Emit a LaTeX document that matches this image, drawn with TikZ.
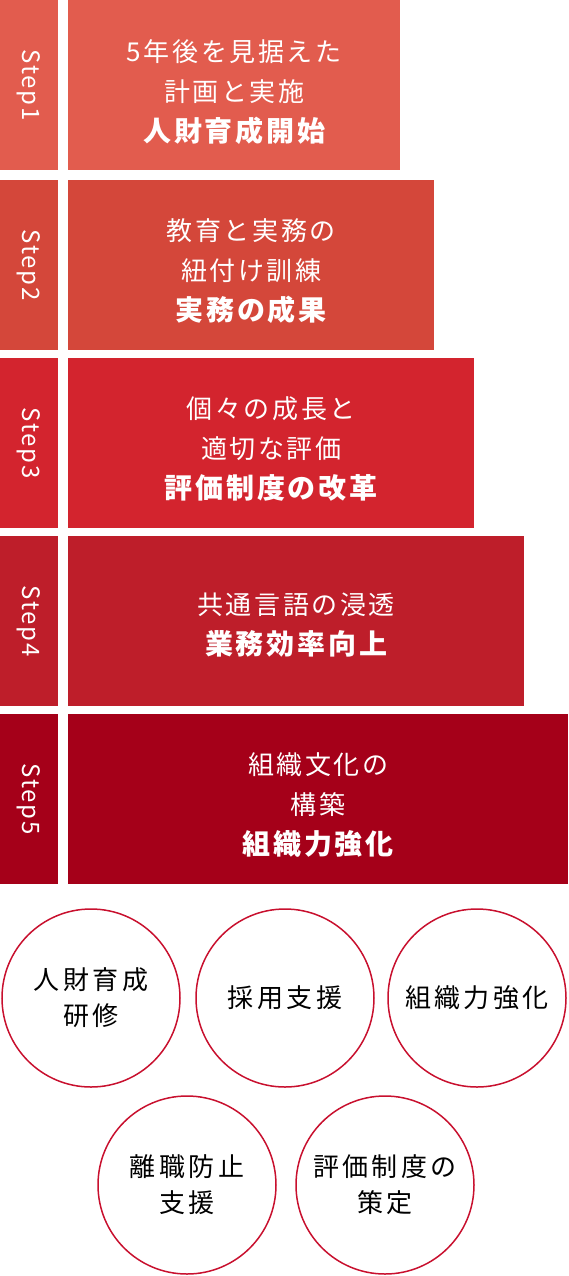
\documentclass[tikz,border=0pt]{standalone}
\usepackage{fontspec}
\setmainfont{Noto Sans CJK JP}
\newfontfamily\jp{Noto Sans CJK JP}[LetterSpace=10]
\newfontfamily\jpc{Noto Sans CJK JP}[LetterSpace=13]
\newfontfamily\lbl{Noto Sans CJK JP}[LetterSpace=8]
\definecolor{cA}{RGB}{226,92,78}
\definecolor{cB}{RGB}{212,71,58}
\definecolor{cC}{RGB}{211,36,46}
\definecolor{cD}{RGB}{190,30,42}
\definecolor{cE}{RGB}{165,0,25}
\definecolor{ring}{RGB}{200,16,46}
\tikzset{
  blk/.style={draw=none, inner sep=0pt, anchor=north west, minimum height=170pt},
  lbar/.style={blk, minimum width=58pt},
  steplbl/.style={text=white, rotate=-90, font=\lbl\fontsize{24}{28}\selectfont, inner sep=0pt},
  maintext/.style={text=white, align=center, font=\jp\fontsize{26}{40}\selectfont, inner sep=0pt},
  circ/.style={circle, draw=ring, line width=1.5pt, minimum size=178pt, inner sep=0pt, align=center, font=\jpc\fontsize{26}{36}\selectfont, text=black}
}
\newcommand{\bl}[1]{{\bfseries\fontsize{28}{40}\selectfont #1}}
\begin{document}
\begin{tikzpicture}[x=1pt,y=-1pt]
\useasboundingbox (0,0) rectangle (568,1276);
% Step 1
\node[lbar, fill=cA] (s1) at (0,0) {};
\node[blk, fill=cA, minimum width=332pt] (m1) at (68,0) {};
\node[steplbl] (l1) at (s1.center) {Step1};
\node[maintext] (t1) at ([yshift=-7pt]m1.center) {5年後を見据えた\\計画と実施\\\bl{人財育成開始}};
% Step 2
\node[lbar, fill=cB] (s2) at (0,180) {};
\node[blk, fill=cB, minimum width=366pt] (m2) at (68,180) {};
\node[steplbl] (l2) at (s2.center) {Step2};
\node[maintext] (t2) at ([yshift=-6pt]m2.center) {教育と実務の\\紐付け訓練\\\bl{実務の成果}};
% Step 3
\node[lbar, fill=cC] (s3) at (0,358) {};
\node[blk, fill=cC, minimum width=406pt] (m3) at (68,358) {};
\node[steplbl] (l3) at (s3.center) {Step3};
\node[maintext] (t3) at ([yshift=-6pt]m3.center) {個々の成長と\\適切な評価\\\bl{評価制度の改革}};
% Step 4
\node[lbar, fill=cD] (s4) at (0,536) {};
\node[blk, fill=cD, minimum width=456pt] (m4) at (68,536) {};
\node[steplbl] (l4) at (s4.center) {Step4};
\node[maintext] (t4) at ([yshift=-4pt]m4.center) {共通言語の浸透\\\bl{業務効率向上}};
% Step 5
\node[lbar, fill=cE] (s5) at (0,714) {};
\node[blk, fill=cE, minimum width=500pt] (m5) at (68,714) {};
\node[steplbl] (l5) at (s5.center) {Step5};
\node[maintext] (t5) at ([yshift=-6pt]m5.center) {組織文化の\\構築\\\bl{組織力強化}};
% Circles
\node[circ] (c1) at (91,998) {人財育成\\研修};
\node[circ] (c2) at (285,998) {採用支援};
\node[circ] (c3) at (477,998) {組織力強化};
\node[circ] (c4) at (187,1185) {離職防止\\支援};
\node[circ] (c5) at (385,1185) {評価制度の\\策定};
\end{tikzpicture}
\end{document}
